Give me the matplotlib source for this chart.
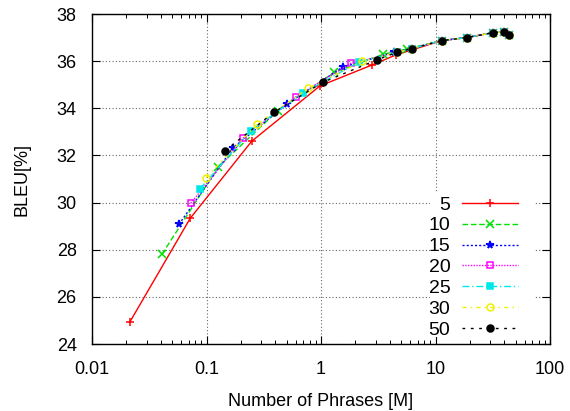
import numpy as np
import matplotlib
matplotlib.use("Agg")
import matplotlib.pyplot as plt
from matplotlib.patches import Rectangle
from matplotlib.ticker import FixedLocator, LogLocator, NullFormatter

plt.rcParams['font.family'] = ['Liberation Sans', 'DejaVu Sans']

# series labels (legend) and values
LABELS = ["5", "10", "15", "20", "25", "30", "50"]

# shared points at the large end, where every series overlaps
TAIL_X = [11.3, 18.7, 32.0, 39.6, 44.1]
TAIL_Y = [36.87, 37.00, 37.21, 37.24, 37.11]

X5 = [0.0215, 0.072, 0.248, 0.98, 2.77, 4.49] + TAIL_X
Y5 = [24.95, 29.33, 32.60, 34.95, 35.83, 36.26] + TAIL_Y

X10 = [0.0407, 0.127, 0.42, 1.31, 3.5, 5.67] + TAIL_X
Y10 = [27.80, 31.52, 33.90, 35.53, 36.29, 36.52] + TAIL_Y

X15 = [0.0575, 0.171, 0.50, 1.57, 4.37, 6.19] + TAIL_X
Y15 = [29.08, 32.33, 34.17, 35.77, 36.37, 36.53] + TAIL_Y

X20 = [0.0728, 0.209, 0.605, 1.83, 4.58, 6.19] + TAIL_X
Y20 = [29.97, 32.73, 34.49, 35.91, 36.37, 36.53] + TAIL_Y

X25 = [0.0877, 0.243, 0.692, 2.16, 4.58, 6.19] + TAIL_X
Y25 = [30.58, 33.04, 34.64, 35.97, 36.37, 36.53] + TAIL_Y

X30 = [0.099, 0.277, 0.776, 2.30, 4.58, 6.19] + TAIL_X
Y30 = [31.06, 33.32, 34.85, 36.00, 36.37, 36.53] + TAIL_Y

X50 = [0.145, 0.391, 1.035, 3.06, 4.58, 6.19] + TAIL_X
Y50 = [32.20, 33.84, 35.10, 36.05, 36.37, 36.53] + TAIL_Y

XS = [X5, X10, X15, X20, X25, X30, X50]
YS = [Y5, Y10, Y15, Y20, Y25, Y30, Y50]

# gnuplot-ish styles
COLORS = ['#ff0000', '#00e000', '#0000ff', '#ff00ff', '#00e8e8', '#f0f000', '#000000']
MARKERS = ['+', 'x', '*', 's', 's', 'o', 'o']
FILLED = [True, True, True, False, True, False, True]
DASHES = ['-', (0, (4, 2)), (0, (1.5, 1.5)), (0, (1, 1)),
          (0, (5, 2, 1, 2)), (0, (3, 3, 1, 3)), (0, (2, 4))]

fig = plt.figure(figsize=(5.7, 4.11), dpi=100)
ax = fig.add_axes([92 / 570, 67 / 411, 458 / 570, 330 / 411])
ax.set_axisbelow(True)

for lab, x, y, c, m, f, ls in zip(LABELS, XS, YS, COLORS, MARKERS, FILLED, DASHES):
    ax.plot(x, y, color=c, linestyle=ls, linewidth=1.0, marker=m,
            markersize=5.5 if m in '+x*' else 5,
            markerfacecolor=c if f else 'none', markeredgecolor=c,
            markeredgewidth=1.1, label=lab, zorder=3)

ax.set_xscale('log')
ax.set_xlim(0.01, 100)
ax.set_ylim(24, 38)
ax.xaxis.set_major_locator(FixedLocator([0.01, 0.1, 1, 10, 100]))
ax.set_xticklabels(["0.01", "0.1", "1", "10", "100"])
ax.xaxis.set_minor_locator(LogLocator(base=10, subs=np.arange(2, 10)))
ax.xaxis.set_minor_formatter(NullFormatter())
ax.set_yticks(np.arange(24, 39, 2))

ax.tick_params(which='both', direction='in', top=True, right=True, labelsize=13)
ax.tick_params(axis='x', which='both', pad=12)
ax.tick_params(axis='y', pad=11)
ax.tick_params(which='major', length=6, width=0.8)
ax.tick_params(which='minor', length=3, width=0.7)
for s in ax.spines.values():
    s.set_linewidth(1.0)
    s.set_zorder(4)

ax.grid(True, which='major', color='#666666', linestyle=(0, (1, 2)), linewidth=0.8)

# blank area behind the key, like gnuplot does
ax.add_patch(Rectangle((0.738, 0.02), 0.229, 0.44, transform=ax.transAxes,
                       facecolor='white', edgecolor='none', zorder=1))

ax.set_xlabel("Number of Phrases [M]", fontsize=13, labelpad=11)
ax.set_ylabel("BLEU[%]", fontsize=13, labelpad=19)

leg = ax.legend(loc='lower right', bbox_to_anchor=(0.965, -0.032), markerfirst=False,
                fontsize=14, handlelength=2.9, handletextpad=0.6,
                labelspacing=0.17, frameon=False, borderpad=0.3)

fig.savefig("out.png", dpi=100)
